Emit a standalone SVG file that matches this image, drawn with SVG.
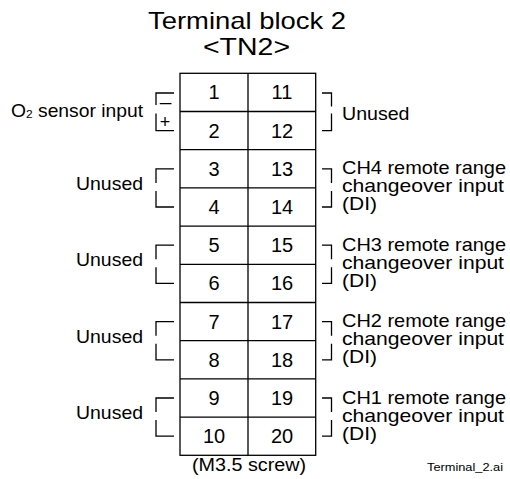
<svg xmlns="http://www.w3.org/2000/svg" width="510" height="479" viewBox="0 0 510 479">
<style>
text{font-family:"Liberation Sans",Arial,sans-serif;fill:#000}
.t{font-size:24px}
.n{font-size:20px;text-anchor:middle}
.l{font-size:18.5px}
.ln{fill:none;stroke:#000;stroke-width:1.3}
</style>
<rect width="510" height="479" fill="#fff"/>
<g id="title">
<text class="t" x="148" y="29" textLength="198" lengthAdjust="spacingAndGlyphs">Terminal block 2</text>
<text class="t" x="203" y="55" textLength="87" lengthAdjust="spacingAndGlyphs">&lt;TN2&gt;</text>
</g>
<g id="terminal-block">
<rect class="ln" x="180" y="73.3" width="135.7" height="382"/>
<path class="ln" d="M248,73.3V455.3M180,111.5H315.7M180,149.7H315.7M180,187.9H315.7M180,226.1H315.7M180,264.3H315.7M180,302.5H315.7M180,340.7H315.7M180,378.9H315.7M180,417.1H315.7"/>
<text class="n" x="214" y="99.4">1</text><text class="n" x="282" y="99.4">11</text>
<text class="n" x="214" y="137.6">2</text><text class="n" x="282" y="137.6">12</text>
<text class="n" x="214" y="175.8">3</text><text class="n" x="282" y="175.8">13</text>
<text class="n" x="214" y="214">4</text><text class="n" x="282" y="214">14</text>
<text class="n" x="214" y="252.2">5</text><text class="n" x="282" y="252.2">15</text>
<text class="n" x="214" y="290.4">6</text><text class="n" x="282" y="290.4">16</text>
<text class="n" x="214" y="328.6">7</text><text class="n" x="282" y="328.6">17</text>
<text class="n" x="214" y="366.8">8</text><text class="n" x="282" y="366.8">18</text>
<text class="n" x="214" y="405">9</text><text class="n" x="282" y="405">19</text>
<text class="n" x="214" y="443.2">10</text><text class="n" x="282" y="443.2">20</text>
</g>
<g id="connectors">
<path class="ln" d="M174,93H156V105M156,113.5V130.6H174"/>
<path class="ln" d="M174,168.8H156V182.9M156,190.9V207H174"/>
<path class="ln" d="M174,245.2H156V259.3M156,267.3V283.4H174"/>
<path class="ln" d="M174,321.6H156V335.7M156,343.7V359.8H174"/>
<path class="ln" d="M174,398H156V412.1M156,420.1V436.2H174"/>
<path class="ln" d="M322,93H331.5V106.5M331.5,113.5V130.6H322"/>
<path class="ln" d="M322,168.8H331.5V182.9M331.5,190.9V207H322"/>
<path class="ln" d="M322,245.2H331.5V259.3M331.5,267.3V283.4H322"/>
<path class="ln" d="M322,321.6H331.5V335.7M331.5,343.7V359.8H322"/>
<path class="ln" d="M322,398H331.5V412.1M331.5,420.1V436.2H322"/>
</g>
<g id="o2-sensor-input">
<text class="l" x="11" y="117.3" textLength="132" lengthAdjust="spacingAndGlyphs">O<tspan font-size="11.5" dy="1">2</tspan><tspan dy="-1"> sensor input</tspan></text>
<text x="165.5" y="108.5" font-size="21" text-anchor="middle">–</text>
<text x="165" y="128" font-size="18" text-anchor="middle">+</text>
</g>
<g id="left-unused">
<text class="l" x="76" y="189.9" textLength="67" lengthAdjust="spacingAndGlyphs">Unused</text>
<text class="l" x="76" y="266.3" textLength="67" lengthAdjust="spacingAndGlyphs">Unused</text>
<text class="l" x="76" y="342.7" textLength="67" lengthAdjust="spacingAndGlyphs">Unused</text>
<text class="l" x="76" y="419.1" textLength="67" lengthAdjust="spacingAndGlyphs">Unused</text>
</g>
<g id="right-unused">
<text class="l" x="342" y="120" textLength="67.5" lengthAdjust="spacingAndGlyphs">Unused</text>
</g>
<g id="ch4">
<text class="l" x="342" y="174.4" textLength="164" lengthAdjust="spacingAndGlyphs">CH4 remote range</text>
<text class="l" x="342" y="192.4" textLength="162" lengthAdjust="spacingAndGlyphs">changeover input</text>
<text class="l" x="342" y="210.4" textLength="35" lengthAdjust="spacingAndGlyphs">(DI)</text>
</g>
<g id="ch3">
<text class="l" x="342" y="250.8" textLength="164" lengthAdjust="spacingAndGlyphs">CH3 remote range</text>
<text class="l" x="342" y="268.8" textLength="162" lengthAdjust="spacingAndGlyphs">changeover input</text>
<text class="l" x="342" y="286.8" textLength="35" lengthAdjust="spacingAndGlyphs">(DI)</text>
</g>
<g id="ch2">
<text class="l" x="342" y="327.2" textLength="164" lengthAdjust="spacingAndGlyphs">CH2 remote range</text>
<text class="l" x="342" y="345.2" textLength="162" lengthAdjust="spacingAndGlyphs">changeover input</text>
<text class="l" x="342" y="363.2" textLength="35" lengthAdjust="spacingAndGlyphs">(DI)</text>
</g>
<g id="ch1">
<text class="l" x="342" y="403.6" textLength="164" lengthAdjust="spacingAndGlyphs">CH1 remote range</text>
<text class="l" x="342" y="421.6" textLength="162" lengthAdjust="spacingAndGlyphs">changeover input</text>
<text class="l" x="342" y="439.6" textLength="35" lengthAdjust="spacingAndGlyphs">(DI)</text>
</g>
<g id="footer">
<text x="192" y="470.5" font-size="18" textLength="114" lengthAdjust="spacingAndGlyphs">(M3.5 screw)</text>
<text x="427" y="471" font-size="11" textLength="76" lengthAdjust="spacingAndGlyphs">Terminal_2.ai</text>
</g>
</svg>
